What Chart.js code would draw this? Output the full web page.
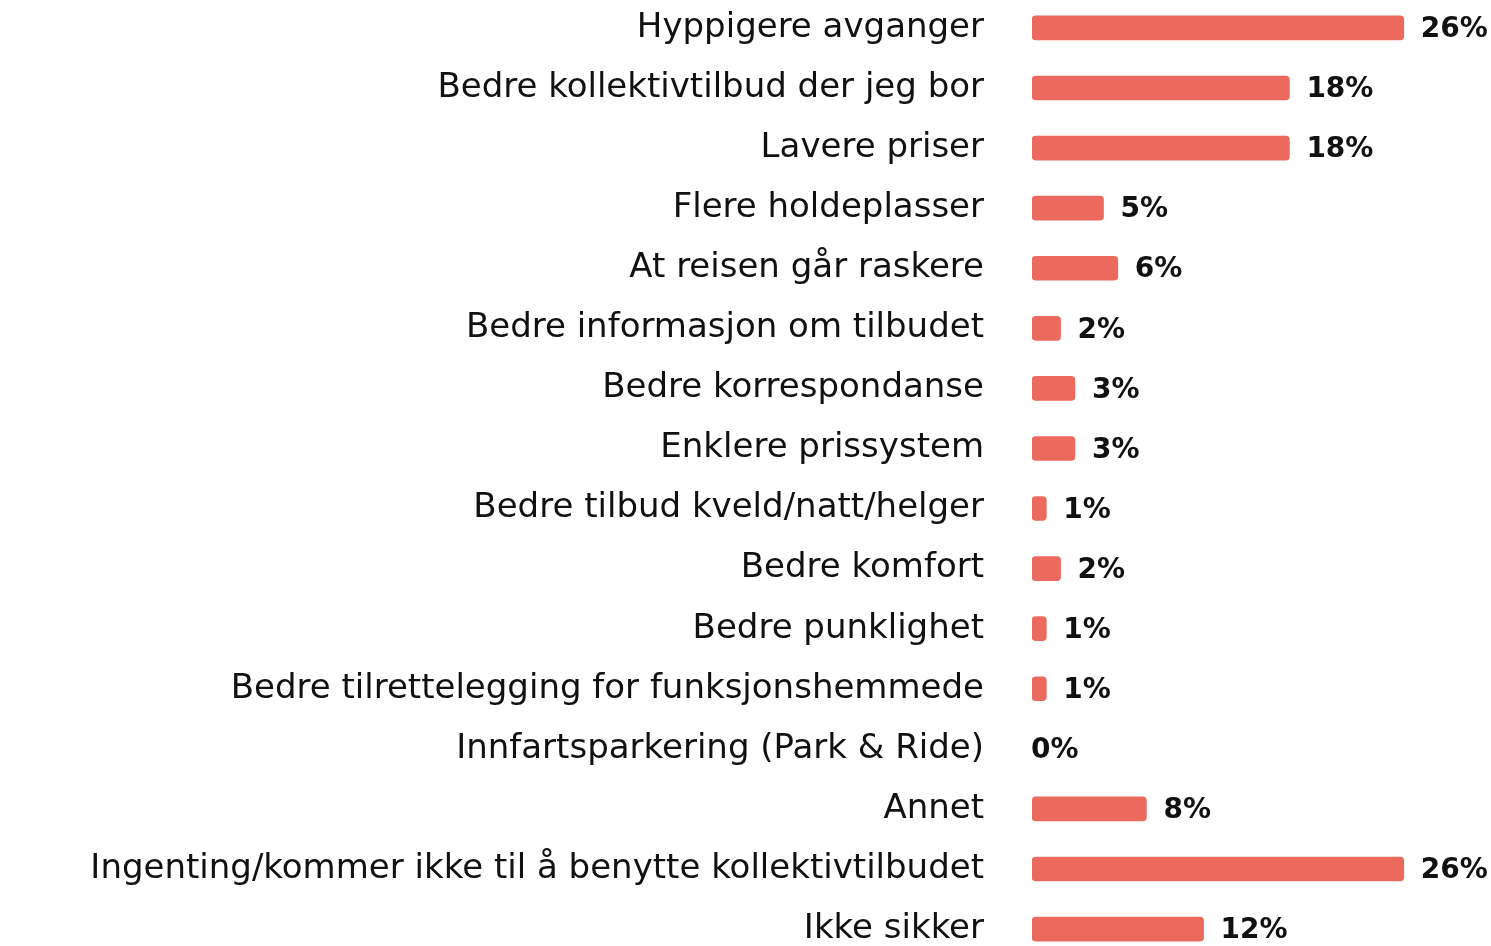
<!DOCTYPE html>
<html>
<head>
<meta charset="utf-8">
<script src="https://cdn.jsdelivr.net/npm/chart.js@4"></script>
<style>
  html, body { margin: 0; padding: 0; background: #fff; overflow: hidden; }
  #wrap { position: absolute; left: 0; top: -3px; width: 1491px; height: 963px; }
</style>
</head>
<body>
<div id="wrap"><canvas id="chart"></canvas></div>
<script>
const categories = [
    'Hyppigere avganger',
    'Bedre kollektivtilbud der jeg bor',
    'Lavere priser',
    'Flere holdeplasser',
    'At reisen går raskere',
    'Bedre informasjon om tilbudet',
    'Bedre korrespondanse',
    'Enklere prissystem',
    'Bedre tilbud kveld/natt/helger',
    'Bedre komfort',
    'Bedre punklighet',
    'Bedre tilrettelegging for funksjonshemmede',
    'Innfartsparkering (Park & Ride)',
    'Annet',
    'Ingenting/kommer ikke til å benytte kollektivtilbudet',
    'Ikke sikker'
];
const values = [26, 18, 18, 5, 6, 2, 3, 3, 1, 2, 1, 1, 0, 8, 26, 12];

const FONT = '"DejaVu Sans", sans-serif';

// fit the label font so the longest label spans about the same width as in the picture
const mctx = document.createElement('canvas').getContext('2d');
mctx.font = '32px ' + FONT;
const longest = Math.max(...categories.map(c => mctx.measureText(c).width));
const labelSize = Math.max(28, Math.min(34, 32 * 968 / longest));

// value labels at the end of each bar
const valueLabels = {
    id: 'valueLabels',
    afterDatasetsDraw(chart) {
        const ctx = chart.ctx;
        const meta = chart.getDatasetMeta(0);
        ctx.save();
        ctx.font = 'bold 28px ' + FONT;
        ctx.fillStyle = '#111';
        ctx.textAlign = 'left';
        ctx.textBaseline = 'middle';
        meta.data.forEach((bar, i) => {
            const x = values[i] > 0 ? bar.x + 17 : bar.x - 1;
            ctx.fillText(values[i] + '%', x, bar.y + 2);
        });
        ctx.restore();
    }
};

new Chart(document.getElementById('chart'), {
    type: 'bar',
    data: {
        labels: categories,
        datasets: [{
            data: values,
            backgroundColor: values.map(v => v > 0 ? '#EB6A5D' : 'rgba(0,0,0,0)'),
            borderRadius: 4,
            borderSkipped: false,
            barThickness: 24
        }]
    },
    options: {
        indexAxis: 'y',
        responsive: true,
        maintainAspectRatio: false,
        animation: false,
        layout: { padding: 0 },
        plugins: {
            legend: { display: false },
            tooltip: { enabled: false }
        },
        scales: {
            x: {
                display: false,
                min: 0,
                max: 32.1
            },
            y: {
                grid: {
                    drawOnChartArea: false,
                    drawTicks: true,
                    tickLength: 48,
                    color: 'rgba(0,0,0,0)'
                },
                border: { display: false },
                ticks: {
                    padding: 0,
                    color: '#111',
                    font: { family: FONT, size: labelSize, lineHeight: 0.05 }
                },
                afterFit(scale) { scale.width = 1032; }
            }
        }
    },
    plugins: [valueLabels]
});
</script>
</body>
</html>
